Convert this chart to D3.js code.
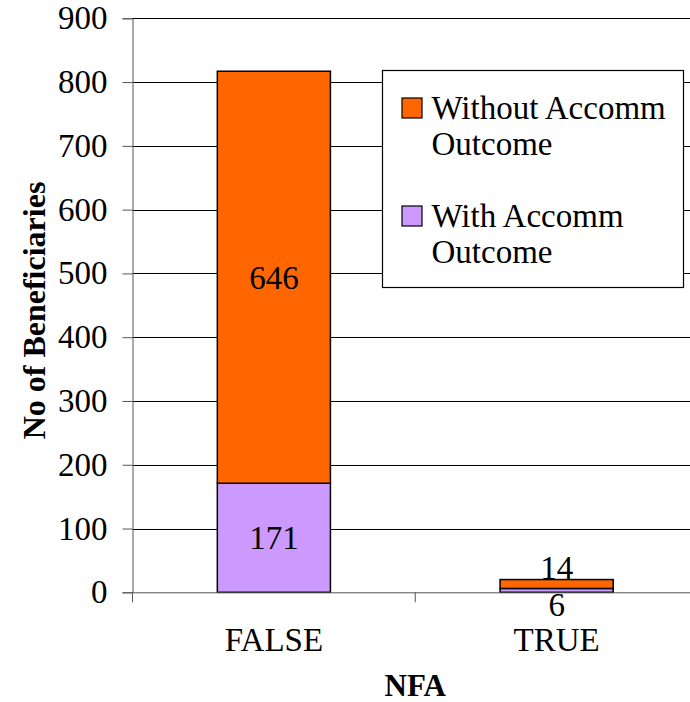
<!DOCTYPE html>
<html>
<head>
<meta charset="utf-8">
<script src="https://cdn.jsdelivr.net/npm/d3@7"></script>
<style>
  html, body { margin: 0; padding: 0; background: #fff; }
  svg { display: block; }
  svg text { font-family: "Liberation Serif", "Times New Roman", Times, serif; }
</style>
</head>
<body>
<svg id="chart" width="690" height="702"></svg>
<script>
const categories = ["FALSE", "TRUE"];
const withAccomm = [171, 6];
const withoutAccomm = [646, 14];
const yTicks = [0, 100, 200, 300, 400, 500, 600, 700, 800, 900];

const svg = d3.select("#chart");
const plot = { left: 132.5, right: 698, top: 18.3, bottom: 592.3 };

const x = d3.scaleBand().domain(categories).range([plot.left, plot.right]).paddingInner(0.6).paddingOuter(0.3);
const xOuter = d3.scaleBand().domain(categories).range([plot.left, plot.right]);
const y = d3.scaleLinear().domain([0, 900]).range([plot.bottom, plot.top]);

const fontSize = 33;
const serif = "'Liberation Serif', 'Times New Roman', Times, serif";

// gridlines
svg.append("g").selectAll("line").data(yTicks.filter(d => d > 0)).join("line")
  .attr("x1", plot.left).attr("x2", plot.right)
  .attr("y1", d => Math.round(y(d)) + 0.5).attr("y2", d => Math.round(y(d)) + 0.5)
  .attr("stroke", "#000").attr("stroke-width", 1);

// y axis
const yAxis = d3.axisLeft(y).tickValues(yTicks).tickSize(10).tickPadding(15).tickFormat(d3.format("d"));
const gy = svg.append("g").attr("transform", `translate(${plot.left},0)`).call(yAxis)
  .attr("font-family", serif).attr("font-size", fontSize);
gy.select(".domain").attr("stroke", "#555");
gy.selectAll(".tick line").attr("stroke", "#555");
gy.selectAll(".tick text").attr("fill", "#000");

// stacked bars
const stackData = categories.map((c, i) => ({ cat: c, with: withAccomm[i], without: withoutAccomm[i] }));
const stack = d3.stack().keys(["with", "without"])(stackData);
const colors = { with: "#cc99ff", without: "#ff6600" };

const gBars = svg.append("g");
stack.forEach(layer => {
  gBars.selectAll(null).data(layer).join("rect")
    .attr("x", d => x(d.data.cat))
    .attr("width", x.bandwidth())
    .attr("y", d => y(d[1]))
    .attr("height", d => y(d[0]) - y(d[1]))
    .attr("fill", colors[layer.key])
    .attr("stroke", "#000").attr("stroke-width", 1.5);
});

// x axis
const xAxis = d3.axisBottom(xOuter).tickSize(0).tickFormat(() => "");
const gx = svg.append("g").attr("transform", `translate(0,${plot.bottom})`).call(xAxis);
gx.select(".domain").attr("stroke", "#555");
const bounds = [plot.left, xOuter("TRUE")];
svg.append("g").selectAll("line").data(bounds).join("line")
  .attr("x1", d => d).attr("x2", d => d)
  .attr("y1", plot.bottom).attr("y2", plot.bottom + 10)
  .attr("stroke", "#555");

// category labels
svg.append("g").selectAll("text").data(categories).join("text")
  .attr("x", d => x(d) + x.bandwidth() / 2)
  .attr("y", 650.5)
  .attr("text-anchor", "middle")
  .attr("font-size", fontSize)
  .text(d => d);

// data labels
const lbl = svg.append("g").attr("font-size", fontSize).attr("text-anchor", "middle");
lbl.append("text")
  .attr("x", x("FALSE") + x.bandwidth() / 2)
  .attr("y", y(withAccomm[0] + withoutAccomm[0] / 2)).attr("dy", "0.35em")
  .text(withoutAccomm[0]);
lbl.append("text")
  .attr("x", x("FALSE") + x.bandwidth() / 2)
  .attr("y", y(withAccomm[0] / 2)).attr("dy", "0.35em")
  .text(withAccomm[0]);
lbl.append("text")
  .attr("x", x("TRUE") + x.bandwidth() / 2)
  .attr("y", y(withAccomm[1] + withoutAccomm[1]) - 1)
  .text(withoutAccomm[1]);
lbl.append("text")
  .attr("x", x("TRUE") + x.bandwidth() / 2)
  .attr("y", y(0) + 23.5)
  .text(withAccomm[1]);

// axis titles
svg.append("text")
  .attr("transform", `translate(45,310.5) rotate(-90)`)
  .attr("text-anchor", "middle")
  .attr("font-size", 32).attr("font-weight", "bold")
  .text("No of Beneficiaries");
svg.append("text")
  .attr("x", (plot.left + plot.right) / 2).attr("y", 696)
  .attr("text-anchor", "middle")
  .attr("font-size", 31).attr("font-weight", "bold")
  .text("NFA");

// legend
const leg = svg.append("g");
leg.append("rect").attr("x", 382.5).attr("y", 70.5).attr("width", 301).attr("height", 217)
  .attr("fill", "#fff").attr("stroke", "#000").attr("stroke-width", 1.2);
const legendItems = [
  { key: "without", lines: ["Without Accomm", "Outcome"], y: 119 },
  { key: "with", lines: ["With Accomm", "Outcome"], y: 227 }
];
legendItems.forEach(it => {
  leg.append("rect").attr("x", 402).attr("y", it.y - 21).attr("width", 20).attr("height", 20)
    .attr("fill", colors[it.key]).attr("stroke", "#000").attr("stroke-width", 1.2);
  const t = leg.append("text").attr("x", 431.5).attr("y", it.y).attr("font-size", fontSize);
  it.lines.forEach((ln, j) => {
    t.append("tspan").attr("x", 431.5).attr("y", it.y + j * 36).text(ln);
  });
});

svg.selectAll("text").attr("font-family", serif);
</script>
</body>
</html>
